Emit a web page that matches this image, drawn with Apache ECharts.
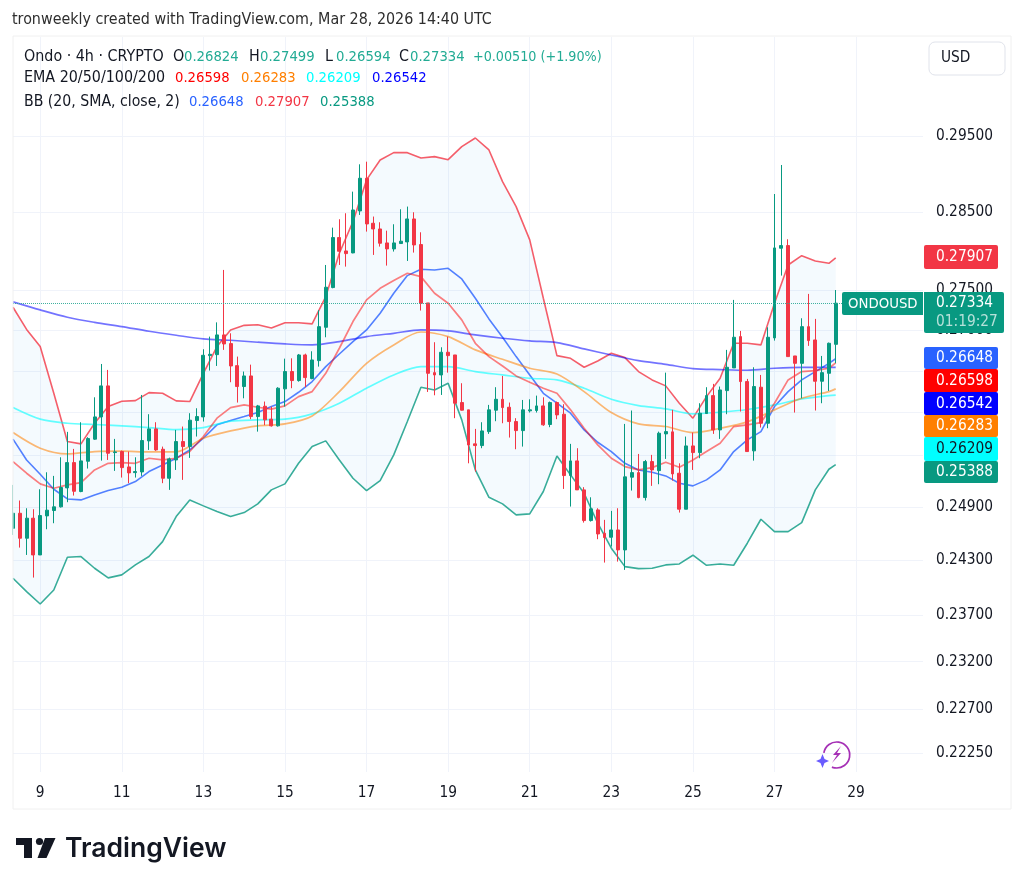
<!DOCTYPE html>
<html><head><meta charset="utf-8">
<style>html,body{margin:0;padding:0;background:#fff}#c{width:1024px;height:889px}</style>
<script src="https://cdn.jsdelivr.net/npm/echarts@6/dist/echarts.min.js"></script>
</head><body><div id="c"></div>
<script>
const opens=[.24659,.24829,.24547,.24773,.24360,.24799,.24860,.24902,.25119,.25411,
.25077,.25427,.25685,.25948,.26319,.25528,.25540,.25361,.25295,.25303,
.25665,.25806,.25567,.25230,.25442,.25657,.25598,.25905,.25948,.26686,
.26698,.26940,.26833,.26564,.26311,.26439,.25952,.26075,.25921,.25842,
.26283,.26492,.26383,.26694,.26407,.26625,.27034,.27530,.28167,.27995,
.27970,.28512,.28942,.28352,.28278,.28098,.28021,.28090,.28111,.28408,
.28077,.27337,.26479,.26451,.26727,.26694,.26119,.26032,.25630,.25610,
.25774,.26028,.26158,.26063,.25893,.25786,.26020,.26024,.26079,.25858,
.26119,.25980,.25261,.25431,.25096,.24746,.24867,.24603,.24558,.24640,
.24416,.25242,.25295,.25008,.25423,.25318,.25747,.25771,.25288,.24875,
.25606,.25528,.25988,.26202,.25794,.26262,.26536,.26919,.26371,.25548,
.26303,.25873,.26903,.28030,.28064,.26682,.26592,.27042,.26878,.26375,
.26471,.26824];
const closes=[.24829,.24547,.24773,.24360,.24803,.24864,.24902,.25123,.25411,.25080,
.25431,.25692,.25948,.26319,.25520,.25536,.25353,.25292,.25307,.25669,
.25806,.25559,.25230,.25454,.25657,.25598,.25909,.25952,.26690,.26702,
.26940,.26829,.26560,.26311,.26439,.25952,.26079,.25913,.25842,.26291,
.26492,.26383,.26694,.26419,.26633,.27042,.27534,.28167,.27991,.27961,
.28525,.28942,.28343,.28278,.28094,.28021,.28098,.28120,.28408,.28072,
.27333,.26471,.26451,.26727,.26686,.26111,.26028,.25618,.25610,.25782,
.26032,.26158,.26059,.25893,.25786,.26032,.26032,.26079,.25854,.26119,
.25972,.25261,.25431,.25096,.24746,.24879,.24595,.24554,.24640,.24416,
.25246,.25295,.25008,.25423,.25326,.25755,.25774,.25280,.24875,.25606,
.25528,.25992,.26202,.25794,.26270,.26544,.26911,.26371,.25540,.26311,
.25873,.26911,.28034,.28064,.26674,.26592,.27042,.26870,.26375,.26479,
.26837,.27334];
const lows=[.24584,.24442,.24360,.24109,.24360,.24648,.24716,.24894,.24955,.25031,
.25069,.25342,.25677,.25434,.25442,.25315,.25238,.25173,.25238,.25257,
.25559,.25548,.25173,.25096,.25326,.25211,.25466,.25716,.25893,.26504,
.26560,.26756,.26363,.26119,.26170,.25921,.25774,.25850,.25834,.25834,
.26071,.26291,.26370,.26303,.26399,.26552,.26911,.27521,.27816,.27795,
.27965,.28460,.28244,.27944,.28051,.27808,.27987,.28085,.27867,.27974,
.27242,.26246,.26206,.26210,.26479,.25933,.26024,.25403,.25307,.25579,
.25747,.25897,.25873,.25704,.25567,.25598,.26000,.26000,.25842,.25826,
.25921,.25107,.24905,.25096,.24723,.24735,.24536,.24275,.24454,.24286,
.24194,.25088,.25000,.24974,.25142,.25161,.25454,.25203,.24837,.24875,
.25326,.25462,.25984,.25747,.25688,.25980,.26536,.26012,.25540,.25434,
.25822,.25814,.26870,.27681,.26674,.26000,.26170,.26805,.26024,.26111,
.26258,.26594];
const highs=[.25153,.24974,.24886,.24875,.25103,.25299,.25257,.25473,.25771,.25571,
.25885,.25708,.26182,.26584,.26512,.25688,.25552,.25540,.25473,.26210,
.25980,.25885,.25598,.25469,.25794,.25834,.25992,.26051,.26764,.26919,
.27095,.27753,.26960,.26674,.26492,.26576,.26091,.26131,.26071,.26303,
.26649,.26653,.26706,.26710,.26739,.27246,.27816,.28295,.28404,.28482,
.28765,.29127,.29162,.28439,.28365,.28256,.28339,.28534,.28569,.28495,
.28235,.27337,.26850,.26788,.26919,.26694,.26351,.26032,.25806,.25885,
.26091,.26303,.26439,.26119,.25933,.26150,.26158,.26202,.26182,.26131,
.26131,.26099,.25630,.25579,.25127,.25011,.24886,.24754,.24856,.24886,
.25865,.26024,.25512,.25442,.25501,.25774,.26479,.26032,.25403,.25716,
.25763,.26111,.26303,.26343,.26311,.26756,.27375,.26989,.26403,.26544,
.26451,.27034,.28734,.29118,.28145,.26682,.27146,.27450,.27138,.26682,
.26846,.27499];
// bands and fast lines are read at every 2nd bar, slow lines at every 4th bar (plus the last bar)
const bbUpper=[.27283,.27008,.26797,.26230,.25657,.25630,.25873,.26071,.26135,.26142,.26238,.26230,.26139,.26131,.26471,.26797,.27001,.27058,.27066,.27025,.27091,.27091,.27076,.27416,.27965,.28373,.28920,.29185,.29283,.29283,.29212,.29230,.29189,.29364,.29480,.29319,.28897,.28569,.28137,.27395,.26686,.26653,.26544,.26621,.26715,.26662,.26492,.26391,.26319,.26111,.25933,.26190,.26411,.26837,.26837,.26817,.27333,.27816,.27935,.27867,.27837,.27907];
const bbLower=[.24102,.23955,.23819,.23973,.24334,.24342,.24212,.24106,.24139,.24249,.24342,.24509,.24792,.24981,.24913,.24848,.24792,.24837,.24936,.25096,.25165,.25403,.25598,.25665,.25442,.25230,.25088,.25203,.25501,.25893,.26303,.26270,.26351,.25913,.25326,.25011,.24936,.24811,.24822,.25077,.25489,.25269,.25057,.24716,.24435,.24230,.24208,.24212,.24249,.24260,.24357,.24245,.24260,.24245,.24491,.24761,.24621,.24621,.24723,.25096,.25334,.25388];
const bbBasis=[.25685,.25442,.25276,.25103,.24992,.24981,.25038,.25088,.25127,.25192,.25307,.25384,.25462,.25559,.25696,.25854,.25905,.25952,.26000,.26071,.26131,.26242,.26371,.26552,.26706,.26858,.27001,.27208,.27458,.27681,.27761,.27753,.27774,.27639,.27395,.27138,.26911,.26674,.26451,.26230,.26111,.25992,.25794,.25649,.25540,.25403,.25326,.25299,.25257,.25173,.25142,.25211,.25326,.25540,.25677,.25774,.26071,.26250,.26391,.26492,.26592,.26648];
const ema20=[.25423,.25288,.25165,.25115,.25153,.25180,.25326,.25403,.25411,.25403,.25462,.25442,.25462,.25540,.25716,.25933,.26059,.26091,.26063,.26040,.26079,.26190,.26250,.26471,.26776,.27105,.27375,.27521,.27618,.27711,.27668,.27458,.27333,.27126,.26837,.26674,.26560,.26439,.26363,.26291,.26230,.26032,.25814,.25618,.25462,.25365,.25326,.25353,.25415,.25357,.25442,.25540,.25637,.25834,.25854,.25881,.26111,.26391,.26492,.26504,.26532,.26598];
const ema50=[.25763,.25579,.25512,.25540,.25544,.25536,.25536,.25696,.25782,.25842,.25865,.25960,.26250,.26592,.26817,.26976,.26919,.26756,.26641,.26532,.26463,.26250,.26000,.25865,.25834,.25763,.25814,.25889,.26032,.26170,.26250,.26283];
const ema100=[.26059,.25921,.25873,.25858,.25842,.25822,.25798,.25822,.25897,.25913,.25921,.25984,.26111,.26291,.26451,.26552,.26552,.26492,.26451,.26411,.26391,.26291,.26158,.26083,.26043,.25984,.26004,.26036,.26091,.26162,.26202,.26209];
const ema200=[.27350,.27250,.27159,.27095,.27042,.26985,.26936,.26891,.26874,.26850,.26829,.26817,.26858,.26919,.26960,.27001,.26989,.26940,.26899,.26866,.26846,.26768,.26694,.26625,.26580,.26528,.26516,.26508,.26532,.26544,.26544,.26542];
const priceTicks=[.295,.285,.275,.27,.265,.26,.255,.249,.243,.237,.232,.227,.2225];
const dayTicks=[9,11,13,15,17,19,21,23,25,27,29];

const firstBarDay=8+1/3, barsPerDay=6;
const barDay=i=>firstBarDay+i/barsPerDay;
const everyNth=(arr,n)=>arr.map((v,k)=>{const i=k===arr.length-1?opens.length-1:k*n;return [barDay(i),v];});
const UP='#089981',DOWN='#F23645';
const FONT='"DejaVu Sans Condensed","DejaVu Sans",sans-serif';
const SZ=15.3;
const candleData=opens.map((o,i)=>[barDay(i),o,closes[i],lows[i],highs[i]]);
const bandData=everyNth(bbUpper,2).map((p,k)=>[p[0],p[1],bbLower[k]]);

const lineS=(name,data,color,width,smooth)=>({name,type:'line',data,showSymbol:false,symbol:'none',silent:true,z:3,smooth:smooth||false,
  lineStyle:{color,width},itemStyle:{color}});

const series=[
  {name:'BB band',type:'custom',data:bandData,encode:{x:0,y:[1,2]},silent:true,z:1,
   renderItem:(params,api)=>{
     if(params.dataIndex!==0) return null;
     const top=bandData.map(d=>api.coord([d[0],d[1]]));
     const bot=bandData.map(d=>api.coord([d[0],d[2]])).reverse();
     return {type:'polygon',shape:{points:top.concat(bot)},style:{fill:'rgba(33,150,243,0.05)'}};
   }},
  lineS('BB upper',everyNth(bbUpper,2),'rgba(242,54,69,0.8)',1.6),
  lineS('BB lower',everyNth(bbLower,2),'rgba(8,153,129,0.8)',1.6),
  lineS('BB basis',everyNth(bbBasis,2),'rgba(41,98,255,0.8)',1.6),
  lineS('EMA 200',everyNth(ema200,4),'rgba(0,0,255,0.55)',1.7,.3),
  lineS('EMA 100',everyNth(ema100,4),'rgba(0,255,255,0.6)',1.7,.3),
  lineS('EMA 50',everyNth(ema50,4),'rgba(255,127,0,0.55)',1.7,.3),
  lineS('EMA 20',everyNth(ema20,2),'rgba(255,0,0,0.5)',1.7),
  {name:'Ondo',type:'candlestick',data:candleData,encode:{x:0,y:[1,2,3,4]},barWidth:3.4,z:4,silent:true,
   itemStyle:{color:UP,color0:DOWN,borderColor:UP,borderColor0:DOWN,borderWidth:1},
   markLine:{silent:true,symbol:'none',precision:5,label:{show:false},animation:false,
     lineStyle:{color:'#2BA896',type:'dotted',width:1,opacity:.9},data:[{yAxis:closes[closes.length-1]}]}}
];

// static header
const hv='#22AB94',dark='#131722';
const titleText='tronweekly created with TradingView.com, Mar 28, 2026 14:40 UTC';
const ohlc=[['O','0.26824',173],['H','0.27499',249],['L','0.26594',325],['C','0.27334',399]];
const changeText='+0.00510 (+1.90%)';
const emaVals=[['0.26598','#FF0000',175],['0.26283','#FF7F00',241],['0.26209','#00FFFF',306],['0.26542','#0000FF',372]];
const bbVals=[['0.26648','#2962FF',189],['0.27907','#F23645',255],['0.25388','#089981',320]];
const priceBoxes=[
 ['0.27907',245,269,'#F23645','#fff'],['0.26648',347,369,'#2962FF','#fff'],['0.26598',369,392,'#FF0000','#fff'],
 ['0.26542',392,415,'#0000FF','#fff'],['0.26283',415,437,'#FF7F00','#fff'],['0.26209',437,461,'#00FFFF','#131722'],
 ['0.25388',461,483,'#089981','#fff']];

const txt=(x,y,text,size,fill,extra)=>({type:'text',z:200,silent:true,style:Object.assign({x,y,text,fill,fontSize:size,fontFamily:FONT,verticalAlign:'middle',textAlign:'left'},extra||{})});
const LBL=15.9,VAL=14.7;
const gfx=[
 {type:'rect',z:150,silent:true,shape:{x:0,y:300,width:12.5,height:400},style:{fill:'#fff'}},
 {type:'rect',z:151,silent:true,shape:{x:13,y:36,width:998,height:773},style:{fill:'none',stroke:'#F0F0F0',lineWidth:1}},
 txt(12,20,titleText,15.9,'#2E2E2E'),
 txt(24,57,'Ondo · 4h · CRYPTO',LBL,dark),
 txt(24,78,'EMA 20/50/100/200',LBL,dark),
 txt(24,102,'BB (20, SMA, close, 2)',15.7,dark),
 txt(473,57,changeText,14.2,hv),
 {type:'rect',z:200,silent:true,shape:{x:929,y:42,width:76,height:33,r:6},style:{fill:'#fff',stroke:'#E0E3EB',lineWidth:1}},
 txt(941,58,'USD',SZ,dark),
 // last price tag
 {type:'rect',z:200,silent:true,shape:{x:842,y:292,width:81,height:23,r:[2,0,0,2]},style:{fill:UP}},
 txt(848,304,'ONDOUSD',14.8,'#fff'),
 {type:'rect',z:200,silent:true,shape:{x:924,y:292,width:80,height:41,r:[0,2,2,2]},style:{fill:UP}},
 txt(936,303.5,'0.27334',SZ,'#fff'),
 txt(936,322,'01:19:27',SZ,'rgba(255,255,255,0.7)')
];
ohlc.forEach(o=>{gfx.push(txt(o[2],57,o[0],LBL,dark));gfx.push(txt(o[2]+11,57,o[1],VAL,hv));});
emaVals.forEach(v=>gfx.push(txt(v[2],78,v[0],VAL,v[1])));
bbVals.forEach(v=>gfx.push(txt(v[2],102,v[0],VAL,v[1])));
priceBoxes.forEach(b=>{
 gfx.push({type:'rect',z:200,silent:true,shape:{x:924,y:b[1],width:74,height:b[2]-b[1],r:2},style:{fill:b[3]}});
 gfx.push(txt(936,(b[1]+b[2])/2+.5,b[0],SZ,b[4]));
});
// TradingView mark
gfx.push(
 {type:'polygon',z:200,silent:true,shape:{points:[[16,838],[32,838],[32,858],[24,858],[24,845],[16,845]]},style:{fill:'#131722'}},
 {type:'circle',z:200,silent:true,shape:{cx:39.5,cy:841.5,r:3.6},style:{fill:'#131722'}},
 {type:'polygon',z:200,silent:true,shape:{points:[[45,838],[55.5,838],[46.5,858],[37.5,858]]},style:{fill:'#131722'}},
 {type:'text',z:200,silent:true,style:{x:65,y:849.5,text:'TradingView',fontFamily:'Inter,"Noto Sans",sans-serif',fontWeight:600,fontSize:26.5,fill:'#131722',verticalAlign:'middle'}},
 // spark badge
 {type:'arc',z:200,silent:true,shape:{cx:836.7,cy:755,r:13,startAngle:-Math.PI*0.95,endAngle:Math.PI*0.62,clockwise:true},style:{fill:'none',stroke:'#A52FB5',lineWidth:1.7}},
 {type:'polygon',z:200,silent:true,shape:{points:[[841,746],[833,755],[837,755],[832,763],[841,753],[837,753]]},style:{fill:'#A52FB5'}},
 {type:'polygon',z:200,silent:true,shape:{points:[[822.5,754],[824.5,759],[829,761],[824.5,763],[822.5,768],[820.5,763],[816,761],[820.5,759]]},style:{fill:'#6A5CFF'}}
);

const chart=echarts.init(document.getElementById('c'),null,{renderer:'canvas'});
chart.setOption({
 animation:false,backgroundColor:'#fff',
 grid:{left:13,top:37,right:101,bottom:117,containLabel:false},
 xAxis:{type:'value',min:firstBarDay,max:30.64,position:'bottom',scale:true,
   axisLine:{show:false},
   axisTick:{show:false,customValues:dayTicks},
   axisLabel:{customValues:dayTicks,color:dark,fontSize:SZ,fontFamily:FONT,margin:14,formatter:v=>String(Math.round(v))},
   splitLine:{show:true,lineStyle:{color:'#F0F3FA',width:1}}},
 yAxis:{type:'log',logBase:10,min:.22057,max:.30874,position:'right',
   axisLine:{show:false},
   axisTick:{show:false,customValues:priceTicks},
   axisLabel:{customValues:priceTicks,color:dark,fontSize:SZ,fontFamily:FONT,margin:13,padding:[3,0,0,0],formatter:v=>(+v).toFixed(5)},
   splitLine:{show:true,lineStyle:{color:'#F0F3FA',width:1}}},
 series,
 graphic:{elements:gfx}
});
</script></body></html>
